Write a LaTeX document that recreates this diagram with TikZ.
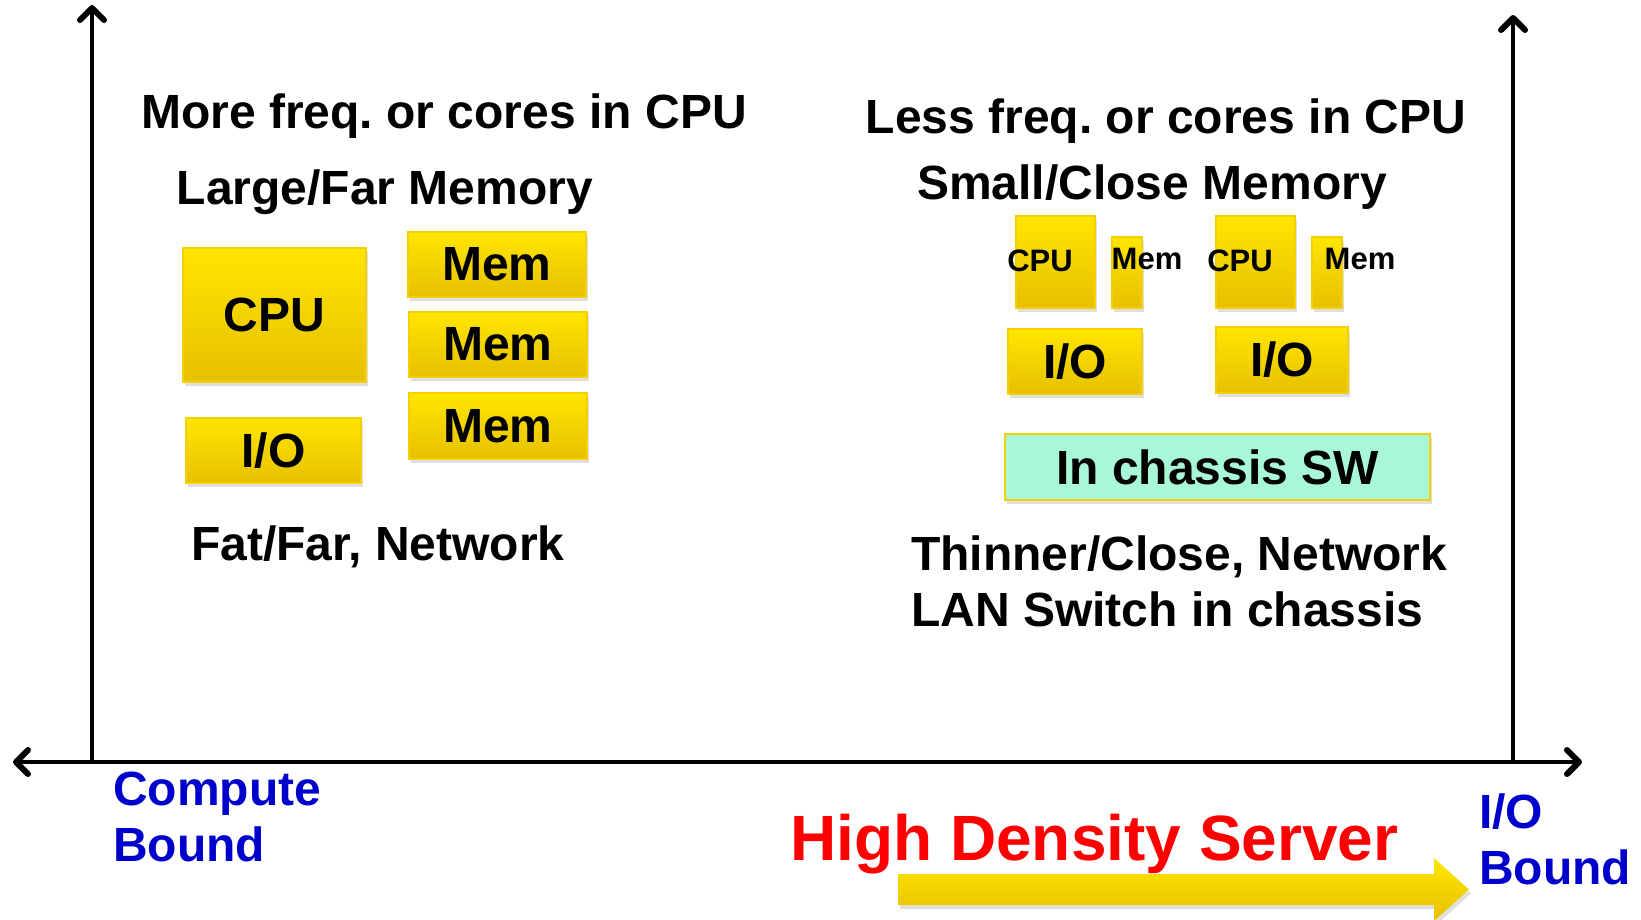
\documentclass[tikz,border=0pt]{standalone}
\usepackage{fontspec}
\setmainfont{Liberation Sans}
\usetikzlibrary{positioning,arrows.meta,shadows}
\frenchspacing

\definecolor{chipyellow}{HTML}{FFE600}
\definecolor{chipgold}{HTML}{E6C000}
\definecolor{chipedge}{HTML}{F5CF00}
\definecolor{swmint}{HTML}{A8F8D8}
\definecolor{boundblue}{HTML}{0000CC}

\newcommand{\sizept}[1]{\fontsize{#1}{56}\selectfont}

\begin{document}
\begin{tikzpicture}[
    x=1pt, y=-1pt,
    >={Straight Barb[length=12pt,width=24pt,line width=6pt,round]},
    chip/.style={draw=chipedge, line width=1.5pt, top color=chipyellow,
        bottom color=chipgold, inner sep=0pt, font=\bfseries\sizept{48},
        drop shadow={shadow xshift=2pt, shadow yshift=-4pt, opacity=0.25}},
    head/.style={font=\bfseries\sizept{48}, inner sep=0pt, anchor=base},
    small/.style={font=\bfseries\sizept{31}, inner sep=0pt},
    bound/.style={font=\bfseries\sizept{48}, text=boundblue, inner sep=0pt,
        align=left, anchor=base west}
]
\useasboundingbox (0,0) rectangle (1641,919);

% axes
\coordinate (origin) at (92,762);
\coordinate (ytop) at (92,5);
\coordinate (xleft) at (13,762);
\coordinate (xright) at (1582,762);
\coordinate (iobase) at (1513,762);
\coordinate (iotop) at (1513,15);
\draw[line width=4.8pt,->] (origin) -- (ytop);
\draw[line width=4.8pt,<->] (xleft) -- (xright);
\draw[line width=4.8pt,->] (iobase) -- (iotop);

% compute bound side
\node[head] (morefreq) at (444,128) {More freq. or cores in CPU};
\node[head] (largemem) at (385,204) {Large/Far Memory};

\node[chip, minimum width=183pt, minimum height=134pt] (cpu) at (274.5,315) {CPU};
\node[chip, minimum width=175pt, minimum height=65pt] (io) at (273.5,450.5) {I/O};
\node[chip, minimum width=178pt, minimum height=65pt] (mem1) at (497,264.5) {Mem};
\node[chip, minimum width=178pt, minimum height=65pt] (mem2) at (498,344.5) {Mem};
\node[chip, minimum width=178pt, minimum height=66pt] (mem3) at (498,426) {Mem};

\node[head, anchor=base west] (fatnet) at (191,560) {Fat/Far, Network};

% high density side
\node[head] (lessfreq) at (1166,133) {Less freq. or cores in CPU};
\node[head] (smallmem) at (1152,199) {Small/Close Memory};

\node[chip, minimum width=79pt, minimum height=92pt] (cpuA) at (1055.5,262) {};
\node[chip, minimum width=30pt, minimum height=71pt] (memA) at (1127,272.5) {};
\node[chip, minimum width=79pt, minimum height=92pt] (cpuB) at (1255.5,262) {};
\node[chip, minimum width=30pt, minimum height=71pt] (memB) at (1327,272.5) {};
\node[small] (cpuAlbl) at (1040,261) {CPU};
\node[small] (memAlbl) at (1147,259) {Mem};
\node[small] (cpuBlbl) at (1240,261) {CPU};
\node[small] (memBlbl) at (1360,259) {Mem};

\node[chip, minimum width=134pt, minimum height=65pt] (ioA) at (1075,361.5) {I/O};
\node[chip, minimum width=132pt, minimum height=66pt] (ioB) at (1282,360) {I/O};

\node[chip, top color=swmint, bottom color=swmint, minimum width=425pt,
    minimum height=66pt] (sw) at (1217.5,467) {In chassis SW};

\node[head, anchor=base west, align=left] (thinnet) at (911,626)
    {Thinner/Close, Network\\LAN Switch in chassis};

% bottom labels
\node[bound] (compute) at (113,861) {Compute\\Bound};
\node[bound] (iobound) at (1479,884) {I/O\\Bound};
\node[font=\bfseries\sizept{64}, text=red, inner sep=0pt, anchor=base west]
    (hds) at (790,860) {High Density Server};

\shade[top color=chipyellow, bottom color=chipgold,
    drop shadow={shadow xshift=2pt, shadow yshift=-4pt, opacity=0.25}]
    (898,874) -- (1434,874) -- (1434,858) -- (1469,889.5) -- (1434,921)
    -- (1434,905) -- (898,905) -- cycle;

\end{tikzpicture}
\end{document}
